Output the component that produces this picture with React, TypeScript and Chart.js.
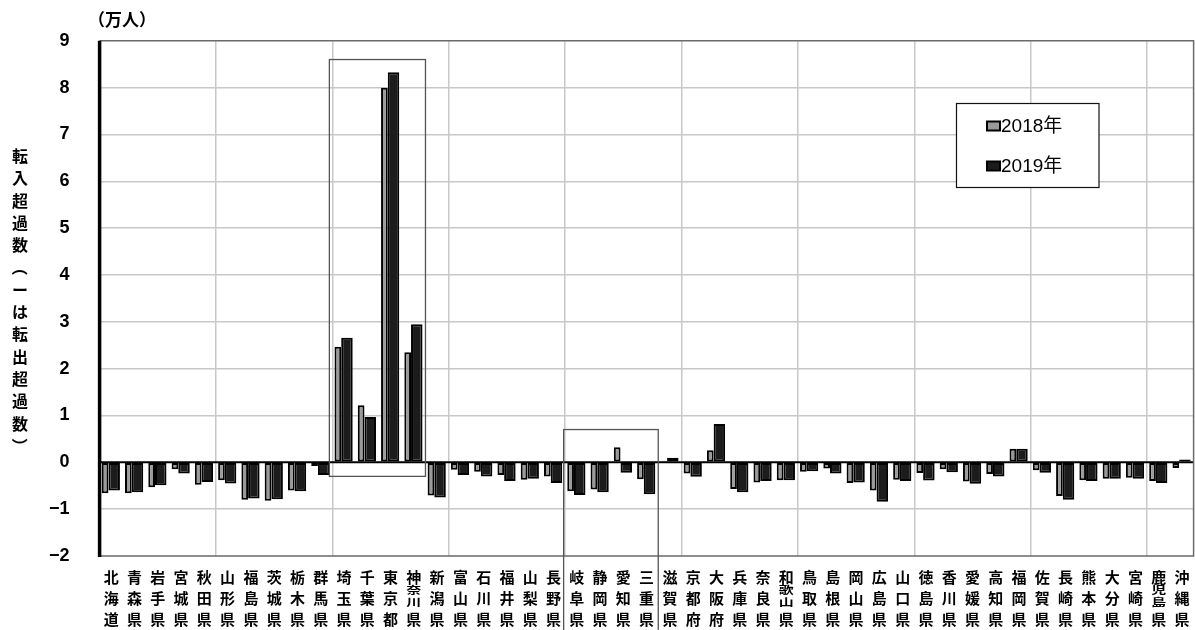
import { useEffect, useRef } from "react";
import { Chart, registerables } from "chart.js";

Chart.register(...registerables);

// 都道府県別 転入超過数（万人）
const prefectures = [
  "北海道", "青森県", "岩手県", "宮城県", "秋田県", "山形県", "福島県", "茨城県", "栃木県", "群馬県",
  "埼玉県", "千葉県", "東京都", "神奈川県", "新潟県", "富山県", "石川県", "福井県", "山梨県", "長野県",
  "岐阜県", "静岡県", "愛知県", "三重県", "滋賀県", "京都府", "大阪府", "兵庫県", "奈良県", "和歌山県",
  "鳥取県", "島根県", "岡山県", "広島県", "山口県", "徳島県", "香川県", "愛媛県", "高知県", "福岡県",
  "佐賀県", "長崎県", "熊本県", "大分県", "宮崎県", "鹿児島県", "沖縄県",
];

const net2018 = [
  -0.66, -0.66, -0.53, -0.15, -0.48, -0.38, -0.80, -0.82, -0.60, -0.08,
  2.47, 1.22, 8.0, 2.35, -0.71, -0.16, -0.20, -0.27, -0.37, -0.30,
  -0.62, -0.58, 0.32, -0.36, 0.03, -0.24, 0.26, -0.57, -0.43, -0.38,
  -0.20, -0.13, -0.44, -0.60, -0.37, -0.23, -0.15, -0.41, -0.25, 0.29,
  -0.17, -0.72, -0.38, -0.35, -0.33, -0.40, -0.12,
];

const net2019 = [
  -0.60, -0.64, -0.49, -0.24, -0.42, -0.45, -0.77, -0.79, -0.62, -0.27,
  2.66, 0.97, 8.33, 2.95, -0.75, -0.27, -0.30, -0.40, -0.35, -0.44,
  -0.70, -0.64, -0.22, -0.68, 0.10, -0.31, 0.82, -0.64, -0.40, -0.38,
  -0.19, -0.24, -0.43, -0.84, -0.40, -0.39, -0.21, -0.46, -0.30, 0.29,
  -0.22, -0.80, -0.40, -0.35, -0.35, -0.44, 0.06,
];

const seriesNames = ["2018年", "2019年"];
const seriesFills = ["#9a9a9a", "#1c1c1c"];
const yMin = -2;
const yMax = 9;
const unitLabel = "（万人）";
const yTitle = "転入超過数（ーは転出超過数）";

// Outlined groups: 東京圏 and 中部 (category index range, value range; null = to page bottom)
const highlightGroups = [
  { from: 10, to: 13, top: 8.6, bottom: -0.3 as number | null, padLeft: 3 },
  { from: 20, to: 23, top: 0.7, bottom: null as number | null, padLeft: 1.5 },
];

const JP = '"Noto Sans CJK JP", "Noto Sans", sans-serif';
const LAT = '"Liberation Sans", Arial, sans-serif';

const decorPlugin = {
  id: "decor",
  afterDatasetsDraw(chart: any) {
    const { ctx, chartArea: a, scales } = chart;
    const x = scales.x;
    const y = scales.y;
    const half = (x.getPixelForValue(1) - x.getPixelForValue(0)) / 2;
    const boundary = (i: number) => x.getPixelForValue(i) - half;
    ctx.save();

    // zero line
    const y0 = y.getPixelForValue(0);
    ctx.strokeStyle = "#000";
    ctx.lineWidth = 2;
    ctx.beginPath();
    ctx.moveTo(a.left, y0);
    ctx.lineTo(a.right, y0);
    ctx.stroke();

    // plot frame
    ctx.strokeStyle = "#6a6a6a";
    ctx.lineWidth = 1.5;
    ctx.beginPath();
    ctx.moveTo(a.left, a.top);
    ctx.lineTo(a.right, a.top);
    ctx.lineTo(a.right, a.bottom);
    ctx.lineTo(a.left, a.bottom);
    ctx.stroke();

    ctx.strokeStyle = "#000";
    ctx.lineWidth = 3.5;
    ctx.beginPath();
    ctx.moveTo(a.left, a.top);
    ctx.lineTo(a.left, a.bottom + 1);
    ctx.stroke();

    // group outlines
    ctx.strokeStyle = "#555";
    ctx.lineWidth = 1.3;
    for (const g of highlightGroups) {
      const l = boundary(g.from) - g.padLeft;
      const r = boundary(g.to + 1);
      const t = y.getPixelForValue(g.top);
      const b = g.bottom === null ? chart.height + 2 : y.getPixelForValue(g.bottom);
      ctx.strokeRect(l, t, r - l, b - t);
    }
    ctx.restore();
  },
  afterDraw(chart: any) {
    const { ctx, chartArea: a, scales } = chart;
    const x = scales.x;
    ctx.save();
    ctx.fillStyle = "#000";
    ctx.textAlign = "center";
    ctx.textBaseline = "middle";

    // category labels, written top to bottom
    ctx.font = `bold 15px ${JP}`;
    const rowTop = a.bottom + 21;
    const rowGap = 21;
    prefectures.forEach((name, i) => {
      const cx = x.getPixelForValue(i);
      const chars = Array.from(name);
      if (chars.length <= 3) {
        chars.forEach((ch, k) => ctx.fillText(ch, cx, rowTop + k * rowGap));
      } else {
        ctx.fillText(chars[0], cx, rowTop);
        ctx.fillText(chars[chars.length - 1], cx, rowTop + 2 * rowGap);
        const mids = chars.slice(1, -1);
        mids.forEach((ch, k) => {
          ctx.save();
          ctx.translate(cx, rowTop + 13.5 + k * 11.5);
          ctx.scale(1, 0.68);
          ctx.fillText(ch, 0, 0);
          ctx.restore();
        });
      }
    });

    // unit label
    ctx.font = `bold 17px ${JP}`;
    ctx.fillText(unitLabel, 122, 20);

    // vertical axis title
    ctx.font = `bold 16px ${JP}`;
    const chars = Array.from(yTitle);
    const startY = 156;
    const step = 22.3;
    chars.forEach((ch, k) => {
      const py = startY + k * step;
      if (ch === "（" || ch === "）") {
        ctx.save();
        ctx.translate(20, py);
        ctx.rotate(Math.PI / 2);
        ctx.fillText(ch, 0, 0);
        ctx.restore();
      } else {
        ctx.fillText(ch, 20, py);
      }
    });

    // legend
    const lx = 956.5;
    const ly = 103.5;
    ctx.fillStyle = "#fff";
    ctx.fillRect(lx, ly, 142.5, 84);
    ctx.strokeStyle = "#111";
    ctx.lineWidth = 1.2;
    ctx.strokeRect(lx, ly, 142.5, 84);
    ctx.textAlign = "left";
    ctx.font = `19px ${LAT}, ${JP}`;
    seriesNames.forEach((name, k) => {
      const cy = 126 + k * 40;
      ctx.fillStyle = seriesFills[k];
      ctx.fillRect(987, cy - 4.5, 13, 9);
      ctx.strokeStyle = "#000";
      ctx.lineWidth = 2;
      ctx.strokeRect(987, cy - 4.5, 13, 9);
      ctx.fillStyle = "#000";
      ctx.fillText(name, 1001, cy + 1);
    });
    ctx.restore();
  },
};

export default function App() {
  const canvasRef = useRef<HTMLCanvasElement | null>(null);

  useEffect(() => {
    const canvas = canvasRef.current;
    if (!canvas) return;
    const chart = new Chart(canvas, {
      type: "bar",
      data: {
        labels: prefectures,
        datasets: [
          {
            label: seriesNames[0],
            data: net2018,
            backgroundColor: seriesFills[0],
            borderColor: "#000",
            borderWidth: 2,
            borderSkipped: false,
            categoryPercentage: 1.057,
            barPercentage: 0.545,
          },
          {
            label: seriesNames[1],
            data: net2019,
            backgroundColor: seriesFills[1],
            borderColor: "#000",
            borderWidth: 2,
            borderSkipped: false,
            categoryPercentage: 0.507,
            barPercentage: 1.95,
          },
        ],
      },
      options: {
        responsive: false,
        maintainAspectRatio: false,
        animation: false,
        devicePixelRatio: 1,
        layout: { padding: { top: 32.5, right: 1.4, bottom: 0, left: 0 } },
        plugins: {
          legend: { display: false },
          tooltip: { enabled: false },
        },
        scales: {
          x: {
            offset: true,
            ticks: { display: false },
            border: { display: false },
            grid: {
              offset: true,
              drawTicks: false,
              lineWidth: 1.5,
              color: (c: any) => (c.index > 0 && c.index % 5 === 0 ? "#c8c8c8" : "rgba(0,0,0,0)"),
            },
            afterFit: (s: any) => {
              s.height = 74;
            },
          },
          y: {
            min: yMin,
            max: yMax,
            border: { display: false },
            ticks: {
              stepSize: 1,
              padding: 30,
              color: "#000",
              font: { family: LAT, size: 18, weight: "bold" },
              callback: (v: any) => (Number(v) < 0 ? "\u2212" + Math.abs(Number(v)) : String(v)),
            },
            grid: {
              drawTicks: false,
              lineWidth: 1.5,
              color: (c: any) => {
                const v = c.tick?.value;
                return v === 0 || v === yMin || v === yMax ? "rgba(0,0,0,0)" : "#c8c8c8";
              },
            },
            afterFit: (s: any) => {
              s.width = 99.6;
            },
          },
        },
      },
      plugins: [decorPlugin],
    });
    return () => chart.destroy();
  }, []);

  return (
    <div style={{ position: "fixed", left: 0, top: 0, width: 1195, height: 630, background: "#fff" }}>
      <canvas ref={canvasRef} width={1195} height={630} style={{ display: "block" }} />
    </div>
  );
}
